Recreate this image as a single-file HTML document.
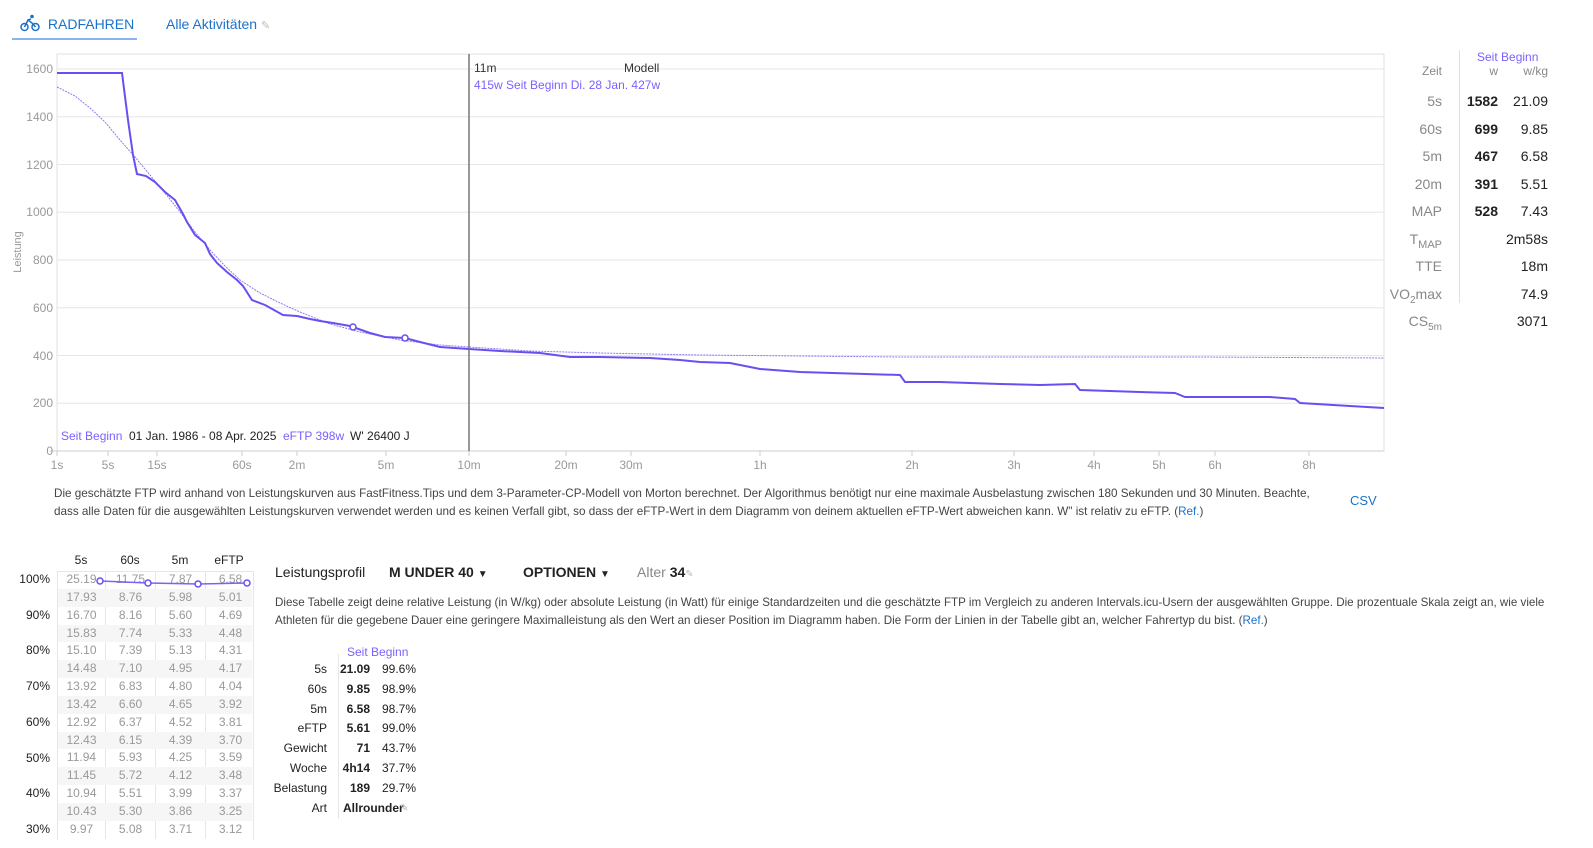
<!DOCTYPE html>
<html><head><meta charset="utf-8"><style>
body{margin:0;width:1593px;height:839px;overflow:hidden;background:#fff;font-family:"Liberation Sans",sans-serif;position:relative;color:#222}
.a{position:absolute;white-space:nowrap}
.g{color:#888}
.p{color:#7b61ff}
.r{text-align:right}
</style></head><body>
<div class="a" style="left:20px;top:14px;font-size:14px;color:#1a73c8">
<svg width="20" height="18" viewBox="0 0 20 18" style="vertical-align:-3px"><circle cx="4.5" cy="13" r="3.5" fill="none" stroke="#1a73c8" stroke-width="1.5"/><circle cx="15.5" cy="13" r="3.5" fill="none" stroke="#1a73c8" stroke-width="1.5"/><circle cx="12" cy="2.5" r="1.8" fill="#1a73c8"/><path d="M4.5 13 L8 6 L12 9 L15.5 13 M8 6 L11 5" fill="none" stroke="#1a73c8" stroke-width="1.5"/></svg>
<span style="margin-left:4px">RADFAHREN</span></div>
<div class="a" style="left:12px;top:38px;width:125px;height:2px;background:#8ab4f0"></div>
<div class="a" style="left:166px;top:16px;font-size:14px;color:#1a73c8">Alle Aktivitäten <span style="color:#bbb;font-size:11px">✎</span></div>

<svg class="a" style="left:0;top:0" width="1593" height="480">
<rect x="57" y="54" width="1327" height="397" fill="none" stroke="#e0e0e0"/>
<g stroke="#e6e6e6">
<line x1="57" x2="1384" y1="69" y2="69"/><line x1="57" x2="1384" y1="116.75" y2="116.75"/><line x1="57" x2="1384" y1="164.5" y2="164.5"/><line x1="57" x2="1384" y1="212.25" y2="212.25"/><line x1="57" x2="1384" y1="260" y2="260"/><line x1="57" x2="1384" y1="307.75" y2="307.75"/><line x1="57" x2="1384" y1="355.5" y2="355.5"/><line x1="57" x2="1384" y1="403.25" y2="403.25"/>
</g>
<line x1="50" x2="1384" y1="451" y2="451" stroke="#ccc"/>
<g fill="#999" font-size="12" text-anchor="end">
<text x="53" y="73">1600</text><text x="53" y="121">1400</text><text x="53" y="169">1200</text><text x="53" y="216">1000</text><text x="53" y="264">800</text><text x="53" y="312">600</text><text x="53" y="360">400</text><text x="53" y="407">200</text><text x="53" y="455">0</text>
</g>
<text x="21" y="252" transform="rotate(-90 21 252)" fill="#999" font-size="11" text-anchor="middle">Leistung</text>
<g fill="#999" font-size="12" text-anchor="middle">
<text x="57" y="469">1s</text><text x="108" y="469">5s</text><text x="157" y="469">15s</text><text x="242" y="469">60s</text><text x="297" y="469">2m</text><text x="386" y="469">5m</text><text x="469" y="469">10m</text><text x="566" y="469">20m</text><text x="631" y="469">30m</text><text x="760" y="469">1h</text><text x="912" y="469">2h</text><text x="1014" y="469">3h</text><text x="1094" y="469">4h</text><text x="1159" y="469">5h</text><text x="1215" y="469">6h</text><text x="1309" y="469">8h</text>
</g>
<g stroke="#ccc"><line x1="57" x2="57" y1="451" y2="456"/><line x1="108" x2="108" y1="451" y2="456"/><line x1="157" x2="157" y1="451" y2="456"/><line x1="242" x2="242" y1="451" y2="456"/><line x1="297" x2="297" y1="451" y2="456"/><line x1="386" x2="386" y1="451" y2="456"/><line x1="469" x2="469" y1="451" y2="456"/><line x1="566" x2="566" y1="451" y2="456"/><line x1="631" x2="631" y1="451" y2="456"/><line x1="760" x2="760" y1="451" y2="456"/><line x1="912" x2="912" y1="451" y2="456"/><line x1="1014" x2="1014" y1="451" y2="456"/><line x1="1094" x2="1094" y1="451" y2="456"/><line x1="1159" x2="1159" y1="451" y2="456"/><line x1="1215" x2="1215" y1="451" y2="456"/><line x1="1309" x2="1309" y1="451" y2="456"/></g>
<polyline fill="none" stroke="#8a7cf0" stroke-width="1" stroke-dasharray="2,1" points="57,87 75,96 90,108 105,122 120,140 135,157 150,175 165,193 180,212 195,232 210,250 225,266 240,280 260,293 280,303 300,312 330,324 360,332 400,340 440,345 469,347 530,351 600,353 700,355 800,356 900,357 1000,357 1200,357 1384,358"/>
<polyline fill="none" stroke="#6a4ff0" stroke-width="2" points="57,73 122,73 128,120 133,155 137,174 146,176 155,182 165,192 175,200 183,214 187,222 195,235 205,243 210,254 217,263 227,272 237,280 243,286 252,300 265,305 283,315 297,316 310,319 320,321 333,323 350,326 370,333 385,337 405,338 420,342 440,347 469,349 500,351 540,353 570,357 600,357 650,358 680,360 700,362 730,363 760,369 800,372 900,375 905,382 940,382 1000,384 1040,385 1075,384 1080,390 1140,392 1175,393 1185,397 1270,397 1295,399 1300,403 1350,406 1384,408"/>
<circle cx="353" cy="327" r="3" fill="#fff" stroke="#6a4ff0" stroke-width="1.5"/>
<circle cx="405" cy="338" r="3" fill="#fff" stroke="#6a4ff0" stroke-width="1.5"/>
<line x1="469" x2="469" y1="54" y2="451" stroke="#777" stroke-width="1.5"/>
<g font-size="12"><text x="474" y="72" fill="#333">11m</text><text x="624" y="72" fill="#333">Modell</text>
<text x="474" y="89" fill="#7b61ff">415w  Seit Beginn  Di. 28 Jan.  427w</text>
<text x="61" y="440" fill="#7b61ff">Seit Beginn</text><text x="129" y="440" fill="#222">01 Jan. 1986 - 08 Apr. 2025</text><text x="283" y="440" fill="#7b61ff">eFTP 398w</text><text x="350" y="440" fill="#222">W' 26400 J</text></g>
</svg>

<div class="a" style="left:54px;top:485px;font-size:11.7px;line-height:18px;color:#444">Die geschätzte FTP wird anhand von Leistungskurven aus FastFitness.Tips und dem 3-Parameter-CP-Modell von Morton berechnet. Der Algorithmus benötigt nur eine maximale Ausbelastung zwischen 180 Sekunden und 30 Minuten. Beachte,<br>dass alle Daten für die ausgewählten Leistungskurven verwendet werden und es keinen Verfall gibt, so dass der eFTP-Wert in dem Diagramm von deinem aktuellen eFTP-Wert abweichen kann. W" ist relativ zu eFTP. (<span style="color:#1a73c8">Ref.</span>)</div>
<div class="a" style="left:1350px;top:493px;font-size:13px;color:#1a73c8">CSV</div>

<div class="a" style="left:1459px;top:50px;width:1px;height:253px;background:#e0e0e0"></div>
<div class="a p" style="left:1477px;top:50px;font-size:12px">Seit Beginn</div>
<div class="a" style="left:1390px;top:64px;width:158px;font-size:12px;color:#888">
<span class="a r" style="right:106px">Zeit</span><span class="a r" style="right:50px">w</span><span class="a r" style="right:0">w/kg</span></div>
<div class="a" style="left:1390px;top:88px;width:158px;font-size:14px;line-height:27.5px">
<div style="position:relative;height:27.5px"><span class="a g" style="right:106px">5s</span><b class="a" style="right:50px">1582</b><span class="a" style="right:0">21.09</span></div>
<div style="position:relative;height:27.5px"><span class="a g" style="right:106px">60s</span><b class="a" style="right:50px">699</b><span class="a" style="right:0">9.85</span></div>
<div style="position:relative;height:27.5px"><span class="a g" style="right:106px">5m</span><b class="a" style="right:50px">467</b><span class="a" style="right:0">6.58</span></div>
<div style="position:relative;height:27.5px"><span class="a g" style="right:106px">20m</span><b class="a" style="right:50px">391</b><span class="a" style="right:0">5.51</span></div>
<div style="position:relative;height:27.5px"><span class="a g" style="right:106px">MAP</span><b class="a" style="right:50px">528</b><span class="a" style="right:0">7.43</span></div>
<div style="position:relative;height:27.5px"><span class="a g" style="right:106px">T<sub style="font-size:11px">MAP</sub></span><span class="a" style="right:0">2m58s</span></div>
<div style="position:relative;height:27.5px"><span class="a g" style="right:106px">TTE</span><span class="a" style="right:0">18m</span></div>
<div style="position:relative;height:27.5px"><span class="a g" style="right:106px">VO<sub style="font-size:10px">2</sub>max</span><span class="a" style="right:0">74.9</span></div>
<div style="position:relative;height:27.5px"><span class="a g" style="right:106px">CS<sub style="font-size:10px">5m</sub></span><span class="a" style="right:0">3071</span></div>
</div>

<div class="a" style="left:57px;top:553px;font-size:12px;width:195px">
<span class="a" style="left:0;width:48px;text-align:center">5s</span><span class="a" style="left:48px;width:50px;text-align:center">60s</span><span class="a" style="left:98px;width:50px;text-align:center">5m</span><span class="a" style="left:148px;width:48px;text-align:center">eFTP</span></div>
<div class="a" style="left:57px;top:571px;width:195px;height:268px;border:1px solid #e6e6e6;border-bottom:0"></div>
<div class="a" style="left:105px;top:571px;width:1px;height:268px;background:#e6e6e6"></div>
<div class="a" style="left:155px;top:571px;width:1px;height:268px;background:#e6e6e6"></div>
<div class="a" style="left:205px;top:571px;width:1px;height:268px;background:#e6e6e6"></div>
<div class="a" id="t" style="left:58px;top:571px;width:194px;font-size:12px;color:#999;line-height:17.85px"></div>
<div class="a" style="left:0;top:562px;width:50px;font-size:12px;line-height:35.7px;text-align:right;color:#222">100%<br>90%<br>80%<br>70%<br>60%<br>50%<br>40%<br>30%</div>
<svg class="a" style="left:0;top:560px" width="260" height="40"><polyline points="100,21 148,23 198,24 247,23" fill="none" stroke="#7b61ff" stroke-width="1.5"/><g fill="#fff" stroke="#6a4ff0" stroke-width="1.5"><circle cx="100" cy="21" r="3"/><circle cx="148" cy="23" r="3"/><circle cx="198" cy="24" r="3"/><circle cx="247" cy="23" r="3"/></g></svg>
<script>
var d=[["25.19","11.75","7.87","6.58"],["17.93","8.76","5.98","5.01"],["16.70","8.16","5.60","4.69"],["15.83","7.74","5.33","4.48"],["15.10","7.39","5.13","4.31"],["14.48","7.10","4.95","4.17"],["13.92","6.83","4.80","4.04"],["13.42","6.60","4.65","3.92"],["12.92","6.37","4.52","3.81"],["12.43","6.15","4.39","3.70"],["11.94","5.93","4.25","3.59"],["11.45","5.72","4.12","3.48"],["10.94","5.51","3.99","3.37"],["10.43","5.30","3.86","3.25"],["9.97","5.08","3.71","3.12"]];
var h="";d.forEach(function(r,i){h+='<div style="height:17.85px;position:relative;background:'+(i%2?'#f6f6f6':'transparent')+'">';[0,48,98,148].forEach(function(x,j){h+='<span style="position:absolute;left:'+x+'px;width:'+(j==0?47:49)+'px;text-align:center">'+r[j]+'</span>'});h+='</div>'});document.getElementById('t').innerHTML=h;
</script>

<div class="a" style="left:275px;top:564px;font-size:14px">Leistungsprofil</div>
<div class="a" style="left:389px;top:564px;font-size:14px;font-weight:bold">M UNDER 40 <span style="font-size:10px">▼</span></div>
<div class="a" style="left:523px;top:564px;font-size:14px;font-weight:bold">OPTIONEN <span style="font-size:10px">▼</span></div>
<div class="a" style="left:637px;top:564px;font-size:14px;color:#888">Alter <b style="color:#222">34</b><span style="color:#bbb;font-size:10px">✎</span></div>
<div class="a" style="left:275px;top:594px;font-size:11.6px;line-height:18px;color:#444">Diese Tabelle zeigt deine relative Leistung (in W/kg) oder absolute Leistung (in Watt) für einige Standardzeiten und die geschätzte FTP im Vergleich zu anderen Intervals.icu-Usern der ausgewählten Gruppe. Die prozentuale Skala zeigt an, wie viele<br>Athleten für die gegebene Dauer eine geringere Maximalleistung als den Wert an dieser Position im Diagramm haben. Die Form der Linien in der Tabelle gibt an, welcher Fahrertyp du bist. (<span style="color:#1a73c8">Ref.</span>)</div>
<div class="a" style="left:338px;top:654px;width:1px;height:165px;background:#e6e6e6"></div>
<div class="a p" style="left:347px;top:645px;font-size:12px">Seit Beginn</div>
<div class="a" style="left:270px;top:660px;font-size:12px;line-height:19.8px;width:150px">
<div style="position:relative;height:19.8px"><span class="a r" style="right:93px">5s</span><b class="a r" style="right:50px">21.09</b><span class="a" style="left:112px">99.6%</span></div>
<div style="position:relative;height:19.8px"><span class="a r" style="right:93px">60s</span><b class="a r" style="right:50px">9.85</b><span class="a" style="left:112px">98.9%</span></div>
<div style="position:relative;height:19.8px"><span class="a r" style="right:93px">5m</span><b class="a r" style="right:50px">6.58</b><span class="a" style="left:112px">98.7%</span></div>
<div style="position:relative;height:19.8px"><span class="a r" style="right:93px">eFTP</span><b class="a r" style="right:50px">5.61</b><span class="a" style="left:112px">99.0%</span></div>
<div style="position:relative;height:19.8px"><span class="a r" style="right:93px">Gewicht</span><b class="a r" style="right:50px">71</b><span class="a" style="left:112px">43.7%</span></div>
<div style="position:relative;height:19.8px"><span class="a r" style="right:93px">Woche</span><b class="a r" style="right:50px">4h14</b><span class="a" style="left:112px">37.7%</span></div>
<div style="position:relative;height:19.8px"><span class="a r" style="right:93px">Belastung</span><b class="a r" style="right:50px">189</b><span class="a" style="left:112px">29.7%</span></div>
<div style="position:relative;height:19.8px"><span class="a r" style="right:93px">Art</span><b class="a" style="left:73px">Allrounder</b><span class="a" style="left:130px;color:#bbb;font-size:10px">✎</span></div>
</div>
</body></html>
